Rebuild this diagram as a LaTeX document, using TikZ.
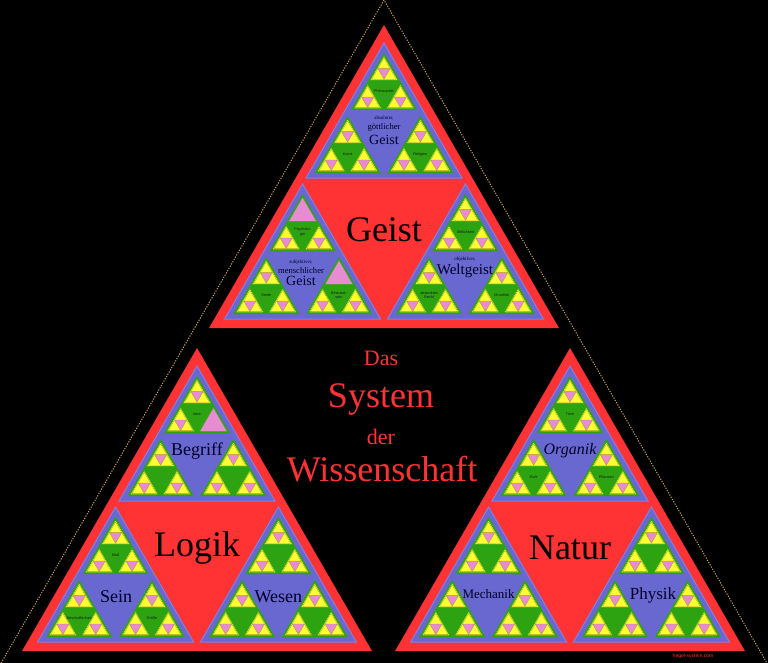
\documentclass[tikz,border=0pt]{standalone}
\usepackage{fontspec}
\setmainfont{Liberation Serif}
\newfontfamily\smallsans{Liberation Sans}
\definecolor{redT}{HTML}{FF3333}
\definecolor{blueT}{HTML}{6868D0}
\definecolor{blueE}{HTML}{8080E6}
\definecolor{greenT}{HTML}{2EA312}
\definecolor{yelT}{HTML}{FFFF33}
\definecolor{pinkT}{HTML}{E98BD2}
\definecolor{oliveT}{HTML}{A0A020}
\definecolor{goldT}{HTML}{C8A050}
\definecolor{labT}{HTML}{102010}
\tikzset{
  lthree/.style={font=\smallsans\fontsize{3.8}{4.2}\selectfont, align=center, text=labT, inner sep=0pt},
  bluelab/.style={font=\fontsize{#1}{#1}\selectfont, text=black!85!blue, inner sep=0pt},
  redlab/.style={font=\fontsize{36}{36}\selectfont, text=black, inner sep=0pt},
  titlelab/.style={font=\fontsize{#1}{#1}\selectfont, text=redT, inner sep=0pt},
}
% level 4: yellow triangle with pink centre (side 28)
\newcommand\Lfour[2]{%
 \begin{scope}[shift={(#1,#2)}]
  \filldraw[fill=yelT,draw=greenT,line width=0.5pt] (0,0) -- (-14,24.25) -- (14,24.25) -- cycle;
  \draw[oliveT,line width=0.3pt] (0,2) -- (-12.25,23.22) -- (12.25,23.22) -- cycle;
  \filldraw[fill=pinkT,draw=oliveT,line width=0.3pt] (-6.125,12.61) -- (6.125,12.61) -- (0,23.22) -- cycle;
 \end{scope}}
% fully pink level 4
\newcommand\Pfour[2]{%
 \begin{scope}[shift={(#1,#2)}]
  \filldraw[fill=pinkT,draw=greenT,line width=0.5pt] (0,0) -- (-14,24.25) -- (14,24.25) -- cycle;
 \end{scope}}
% level 3: green triangle (side 66)
\newcommand\Lthree[4]{%
 \begin{scope}[shift={(#1,#2)}]
  \fill[greenT] (0,0) -- (-33,57.16) -- (33,57.16) -- cycle;
  \Lfour{0}{3}\Lfour{-16.4}{31.4}\Lfour{16.4}{31.4}
  \node[lthree] (#4) at (0,38.1) {#3};
 \end{scope}}
% level 2: blue triangle (side 156)
\newcommand\Ltwo[6]{%
 \begin{scope}[shift={(#1,#2)}]
  \filldraw[fill=blueT,draw=blueE,line width=1pt] (0,0) -- (-78,135.1) -- (78,135.1) -- cycle;
  \Lthree{0}{10}{#3}{#6-t}\Lthree{-36.35}{73}{#4}{#6-l}\Lthree{36.35}{73}{#5}{#6-r}
 \end{scope}}
% level 1: red triangle (side 350)
\newcommand\Lone[2]{%
 \fill[redT] (#1,#2) -- ++(-175,303.1) -- ++(350,0) -- cycle;}
\begin{document}
\begin{tikzpicture}[x=1pt,y=-1pt]
\useasboundingbox (0,0) rectangle (768,663);
\fill[black] (0,0) rectangle (768,663);
\begin{scope}
\clip (0,0) rectangle (768,663);
\draw[goldT,line width=1pt,dash pattern=on 1.2pt off 1.4pt] (384,0) -- (0,665) -- (768,665) -- cycle;
\end{scope}
% red triangles
\Lone{384}{25}\Lone{197}{348}\Lone{570}{348}
% Geist
\Ltwo{384}{43}{Philosophie}{Kunst}{Religion}{ag}
\Ltwo{302.6}{184}{Psycholo-\\gie}{Seele}{Bewusst-\\sein}{sg}
\Ltwo{465.4}{184}{Sittlichkeit}{abstraktes\\Recht}{Moralität}{og}
% Logik
\Ltwo{197}{366}{Idee}{}{}{be}
\Ltwo{115.6}{507}{Maß}{Beschaffenheit}{Größe}{se}
\Ltwo{278.4}{507}{}{}{}{we}
% Natur
\Ltwo{570}{366}{Tiere}{\textit{Erde}}{Pflanzen}{or}
\Ltwo{488.6}{507}{}{}{}{me}
\Ltwo{651.4}{507}{}{}{}{ph}
% fully pink level-4 triangles
\Pfour{302.6}{197}
\Pfour{338.95}{260}
\Pfour{213.4}{407.4}
% blue labels
\node[bluelab=5] (ag1) at (384,118) {absoluter,};
\node[bluelab=8.6] (ag2) at (384,127.5) {göttlicher};
\node[bluelab=14] (ag3) at (384,139.5) {Geist};
\node[bluelab=5] (sg1) at (301,262) {subjektiver,};
\node[bluelab=8.6] (sg2) at (301,270.5) {menschlicher};
\node[bluelab=14] (sg3) at (301,281) {Geist};
\node[bluelab=5] (og1) at (465,259.5) {objektiver,};
\node[bluelab=15] (og2) at (465,271) {Weltgeist};
\node[bluelab=18] (beL) at (197,451) {Begriff};
\node[bluelab=18] (seL) at (116,597) {Sein};
\node[bluelab=18] (weL) at (278.4,597) {Wesen};
\node[bluelab=16] (orL) at (570,451) {\itshape Organik};
\node[bluelab=13] (meL) at (488.6,594) {Mechanik};
\node[bluelab=17] (phL) at (653,595) {Physik};
% red labels
\node[redlab] (geist) at (384,230) {Geist};
\node[redlab] (logik) at (197,548) {Logik};
\node[redlab] (natur) at (570,548) {Natur};
% title
\node[titlelab=22] (das) at (381,358) {Das};
\node[titlelab=36] (system) at (381,399) {System};
\node[titlelab=22] (der) at (381,437) {der};
\node[titlelab=36] (wiss) at (382,469) {Wissenschaft};
\node[font=\smallsans\fontsize{5}{5}\selectfont, text=redT, inner sep=0pt] (web) at (693,656) {hegel-system.com};
\end{tikzpicture}
\end{document}
